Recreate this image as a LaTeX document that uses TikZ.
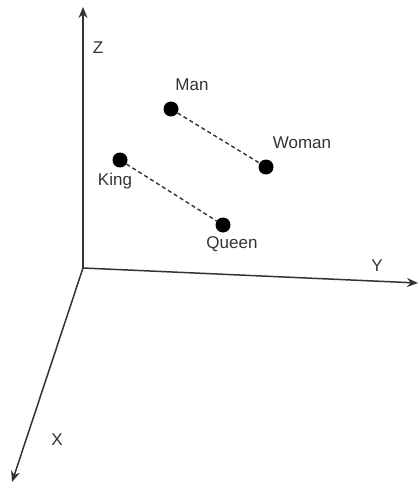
\documentclass[tikz,border=0pt]{standalone}
\usepackage{fontspec}
\setmainfont{Liberation Sans}
\usetikzlibrary{arrows.meta}
\definecolor{ink}{HTML}{333333}
\begin{document}
\begin{tikzpicture}[x=1pt,y=-1pt,
  axis/.style={draw=ink,line width=1.5pt,-{Stealth[length=11pt,width=9pt]}},
  dot/.style={circle,fill=black,inner sep=0pt,minimum size=15pt},
  link/.style={draw=ink,line width=1.4pt,dash pattern=on 4pt off 3pt},
  lbl/.style={text=ink,font=\fontsize{17}{19}\selectfont,inner sep=0pt}]
\useasboundingbox (0,0) rectangle (419,489);
\coordinate (O) at (83,268);
\coordinate (Zt) at (83,7);
\coordinate (Yt) at (418,283);
\coordinate (Xt) at (12,482);
\draw[axis] (O) -- (Zt);
\draw[axis] (O) -- (Yt);
\draw[axis] (O) -- (Xt);
\node[lbl] (zl) at (98,48) {Z};
\node[lbl] (yl) at (377,266) {Y};
\node[lbl] (xl) at (57,440) {X};
\node[dot] (man) at (171,109) {};
\node[dot] (woman) at (266,167) {};
\node[dot] (king) at (120,160) {};
\node[dot] (queen) at (223,225) {};
\draw[link] (man) -- (woman);
\draw[link] (king) -- (queen);
\node[lbl] (manl) at (192,85) {Man};
\node[lbl] (womanl) at (302,143) {Woman};
\node[lbl] (kingl) at (115,181) {King};
\node[lbl] (queenl) at (232,244) {Queen};
\end{tikzpicture}
\end{document}
